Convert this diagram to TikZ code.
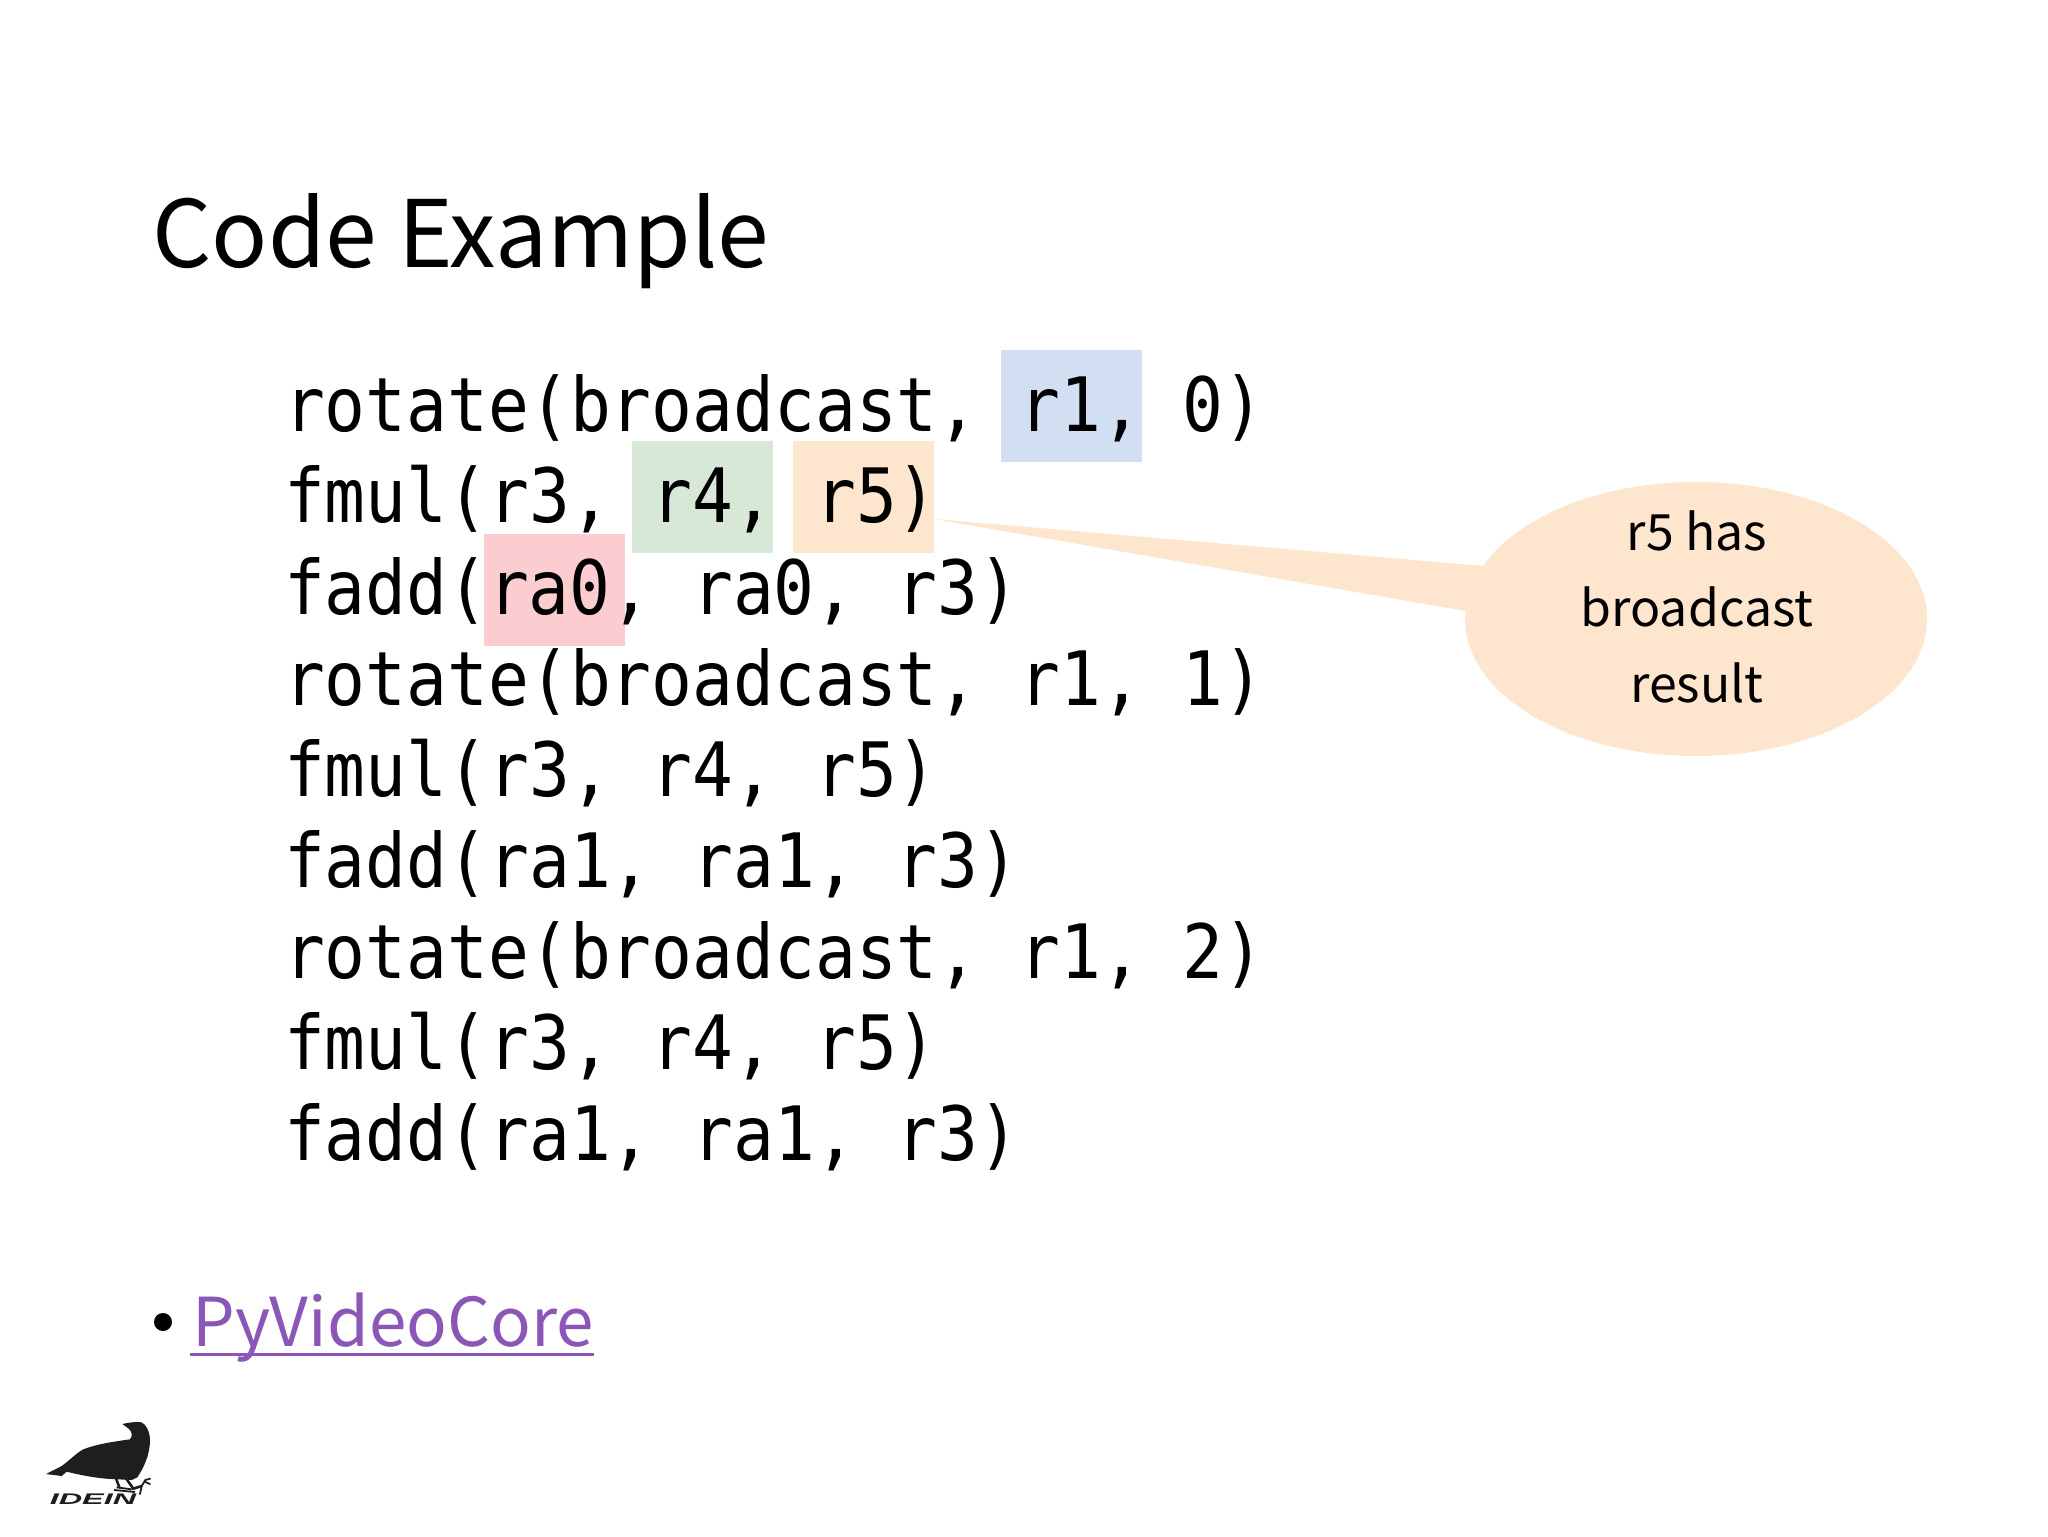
\documentclass[tikz,border=0pt]{standalone}
\usepackage{fontspec}
\setmainfont{Noto Sans CJK JP}
\newfontfamily\codefont[FakeStretch=0.905]{DejaVu Sans Mono}
\newfontfamily\logofont{Liberation Sans}
\usetikzlibrary{shapes.geometric}
\definecolor{hlblue}{HTML}{D2DFF3}
\definecolor{hlgreen}{HTML}{D8E8D6}
\definecolor{hlorange}{HTML}{FEE5CE}
\definecolor{hlred}{HTML}{FBCDD0}
\definecolor{linkpurple}{HTML}{8A56B8}
\definecolor{crow}{HTML}{1E1E1E}
\tikzset{
 code/.style={anchor=base west,inner sep=0pt,outer sep=0pt,font=\codefont\fontsize{37.5pt}{40pt}\selectfont},
 hl/.style={inner sep=0pt,outer sep=0pt,anchor=north west,minimum width=70.5pt,minimum height=56pt},
 title/.style={anchor=base west,inner sep=0pt,font=\fontsize{46.5pt}{50pt}\selectfont},
 linktext/.style={anchor=base west,inner sep=0pt,text=linkpurple,font=\fontsize{33.7pt}{38pt}\selectfont},
 bubble/.style={ellipse,fill=hlorange,inner sep=0pt,outer sep=0pt,minimum width=231pt,minimum height=137pt},
 bubbletext/.style={inner sep=0pt,align=center,font=\fontsize{25pt}{38.2pt}\selectfont},
}
\begin{document}
\begin{tikzpicture}[x=0.5pt,y=-0.5pt]
\useasboundingbox (0,0) rectangle (2048,1536);
\fill[white] (0,0) rectangle (2048,1536);
% highlights behind text
\node[hl,fill=hlblue] (hb) at (1001,350) {};
\node[hl,fill=hlgreen] (hg) at (632,441) {};
\node[hl,fill=hlorange] (ho) at (793,441) {};
% title
\node[title] (ttl) at (152,267) {Code Example};
% code
\node[code] (l1) at (284,431) {rotate(broadcast, r1, 0)};
\node[code] (l2) at (284,522) {fmul(r3, r4, r5)};
\node[code] (l3a) at (284,614) {fadd(};
\node[hl,fill=hlred] (hr) at (484,534) {};
\node[code] (l3b) at (488,614) {ra0};
\node[code] (l3c) at (610.5,614) {, ra0, r3)};
\node[code] (l4) at (284,705) {rotate(broadcast, r1, 1)};
\node[code] (l5) at (284,796) {fmul(r3, r4, r5)};
\node[code] (l6) at (284,887) {fadd(ra1, ra1, r3)};
\node[code] (l7) at (284,978) {rotate(broadcast, r1, 2)};
\node[code] (l8) at (284,1069) {fmul(r3, r4, r5)};
\node[code] (l9) at (284,1160) {fadd(ra1, ra1, r3)};
% callout
\node[bubble] (bub) at (1696,619) {};
\coordinate (tip) at (ho.east |- 0,519);
\fill[hlorange] (tip) -- (bub.166.4) -- (bub.178.3) -- cycle;
\node[bubbletext] (bubtxt) at (1697,607) {r5 has\\broadcast\\result};
% link
\node[circle,fill=black,inner sep=0pt,minimum size=9pt] (bul) at (163,1322) {};
\node[linktext] (lnk) at (192,1346) {PyVideoCore};
\coordinate (ua) at (190,1354);
\coordinate (ub) at (594,1354);
\draw[linkpurple,line width=1.5pt] (ua) -- (ub);
% logo
\begin{scope}[shift={(0,1380)},x=0.16667pt,y=-0.16667pt]
\fill[crow] (367,132) .. controls (385,128) and (405,125) .. (420,126)
 .. controls (440,130) and (450,160) .. (450,180)
 .. controls (450,225) and (430,265) .. (412,292)
 -- (395,300) -- (335,297)
 .. controls (290,295) and (240,285) .. (200,275)
 -- (185,288) -- (138,282) -- (185,258)
 .. controls (210,240) and (230,218) .. (250,208)
 .. controls (290,192) and (340,185) .. (390,178)
 .. controls (400,165) and (395,155) .. (385,145) -- cycle;
\draw[crow,line width=1.3pt,line cap=round] (348,295) -- (358,322) (378,295) -- (400,326) -- (425,318);
\draw[crow,line width=0.9pt,line cap=round] (425,318) -- (436,300) -- (450,296) (436,306) -- (450,312) (425,318) -- (420,342);
\draw[crow,line width=0.9pt] (342,330) -- (405,336) (350,322) -- (395,328);
\node[inner sep=0pt,anchor=base,xscale=2.1,font=\logofont\bfseries\itshape\fontsize{7.7pt}{8pt}\selectfont,text=crow] (logo) at (279,372) {IDEIN};
\end{scope}
\end{tikzpicture}
\end{document}
